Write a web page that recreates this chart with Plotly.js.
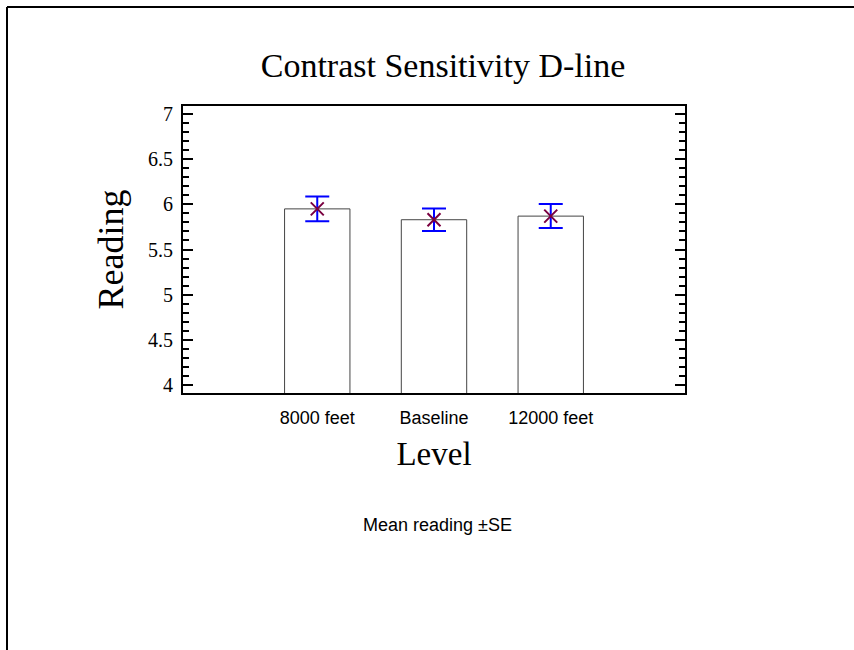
<!DOCTYPE html>
<html>
<head>
<meta charset="utf-8">
<script src="https://cdn.plot.ly/plotly-3.0.1.min.js"></script>
<style>
  html, body { margin: 0; padding: 0; background: #fff; overflow: hidden; }
  #chart { position: absolute; left: 0; top: 0; width: 854px; height: 650px; }
</style>
</head>
<body>
<div id="chart"></div>
<script>
const levels = ["8000 feet", "Baseline", "12000 feet"];
const meanReading = [5.95, 5.83, 5.87];
const seReading = [0.137, 0.124, 0.133];
const yTickVals = [4, 4.5, 5, 5.5, 6, 6.5, 7];
const yTickText = ["4", "4.5", "5", "5.5", "6", "6.5", "7"];

const serif = "Liberation Serif, Times New Roman, serif";
const sans = "Liberation Sans, Arial, sans-serif";

// plot area in pixels (for placing frame lines in paper coordinates)
const M = { l: 183, r: 169, t: 106, b: 257 };
const PW = 854 - M.l - M.r, PH = 650 - M.t - M.b;
const px = v => (v - M.l) / PW;
const py = v => 1 - (v - M.t) / PH;

const traces = [
  {
    type: "bar",
    x: levels,
    y: meanReading,
    width: 0.56,
    marker: { color: "#ffffff", line: { color: "#444444", width: 1 } },
    hoverinfo: "skip",
    showlegend: false
  },
  {
    type: "scatter",
    mode: "markers",
    x: levels,
    y: meanReading,
    marker: { symbol: "x-thin-open", size: 13, color: "#7a0040", line: { color: "#7a0040", width: 2 } },
    error_y: { type: "data", array: seReading, visible: true, color: "#0000ff", thickness: 2, width: 12 },
    showlegend: false
  }
];

const layout = {
  width: 854,
  height: 650,
  paper_bgcolor: "#ffffff",
  plot_bgcolor: "#ffffff",
  margin: M,
  showlegend: false,
  bargap: 0,
  title: {
    text: "Contrast Sensitivity D-line",
    font: { family: serif, size: 34, color: "#000" },
    x: px(443), xanchor: "center", xref: "paper",
    y: 1 - 65 / 650, yanchor: "middle", yref: "container"
  },
  xaxis: {
    type: "category",
    range: [-1.15, 3.15],
    showline: true, linecolor: "#000", linewidth: 2, mirror: true,
    showgrid: false, zeroline: false,
    ticks: "outside", ticklen: 7, tickcolor: "rgba(0,0,0,0)",
    tickfont: { family: sans, size: 18, color: "#000" },
    title: { text: "Level", font: { family: serif, size: 33, color: "#000" }, standoff: 15 }
  },
  yaxis: {
    range: [3.91, 7.09],
    showline: true, linecolor: "#000", linewidth: 2, mirror: "ticks",
    showgrid: false, zeroline: false,
    ticks: "inside", ticklen: 10, tickwidth: 2, tickcolor: "#000",
    tickvals: yTickVals, ticktext: yTickText,
    minor: { dtick: 0.1, ticks: "inside", ticklen: 6, tickwidth: 2, tickcolor: "#000", showgrid: false },
    ticklabelstandoff: 4,
    tickfont: { family: serif, size: 20, color: "#000" },
    title: { text: "Reading", font: { family: serif, size: 36, color: "#000" }, standoff: 13 }
  },
  shapes: [
    { type: "line", xref: "paper", yref: "paper", x0: px(7), x1: px(900), y0: py(7), y1: py(7), line: { color: "#000", width: 2 } },
    { type: "line", xref: "paper", yref: "paper", x0: px(7), x1: px(7), y0: py(7), y1: py(700), line: { color: "#000", width: 2 } }
  ],
  annotations: [
    {
      text: "Mean reading ±SE",
      xref: "paper", yref: "paper",
      x: px(437), y: py(525),
      xanchor: "center", yanchor: "middle",
      showarrow: false,
      font: { family: sans, size: 18, color: "#000" }
    }
  ]
};

Plotly.newPlot("chart", traces, layout, { displayModeBar: false, staticPlot: true });
</script>
</body>
</html>
